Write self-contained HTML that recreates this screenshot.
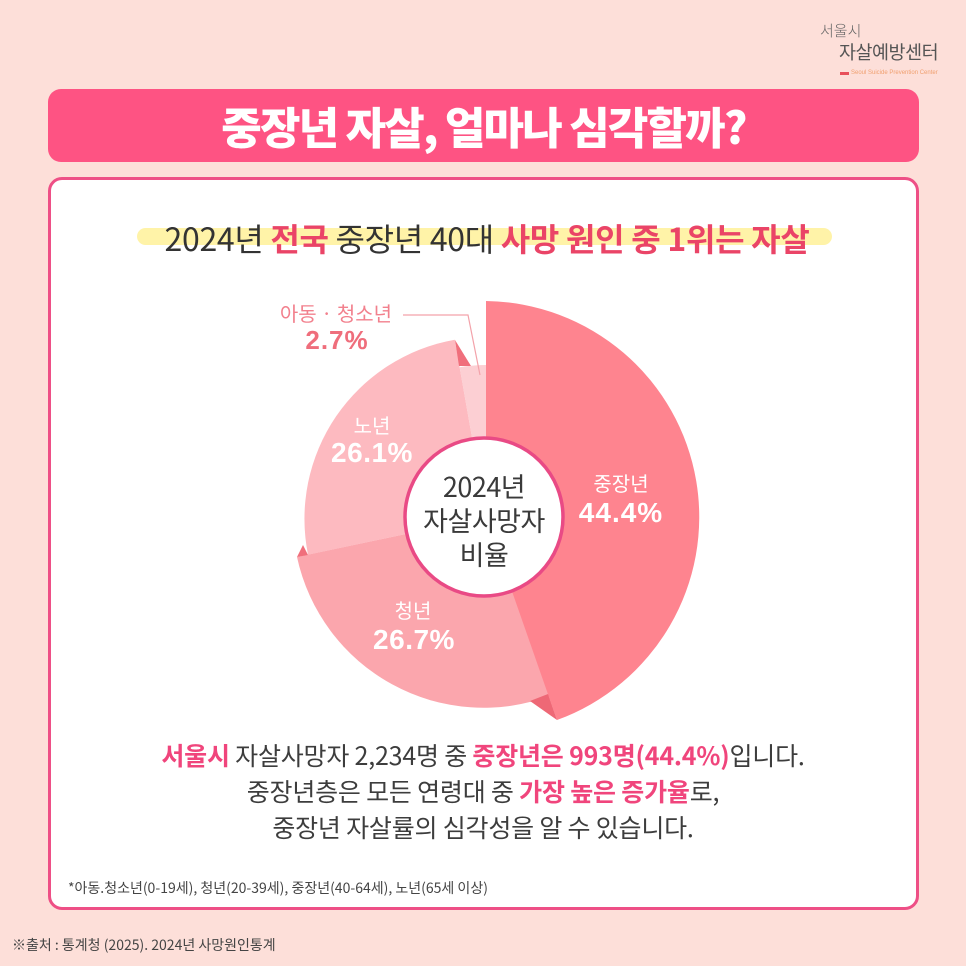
<!DOCTYPE html>
<html><head><meta charset="utf-8">
<style>
html,body{margin:0;padding:0;}
body{width:966px;height:966px;position:relative;overflow:hidden;background:#FDDFD9;font-family:"Liberation Sans","Noto Sans CJK KR",sans-serif;}
.abs{position:absolute;white-space:nowrap;}
.c{text-align:center;}
.kr{font-family:"Noto Sans CJK KR","Liberation Sans",sans-serif;}
.pink{color:#F0457C;font-weight:700;}
.red{color:#EA4467;font-weight:700;}
</style></head>
<body>
<!-- logo -->
<div class="abs kr" style="left:820px;top:22px;font-size:15px;line-height:18px;color:#666;font-weight:300;">서울시</div>
<div class="abs kr" style="left:839px;top:41px;font-size:18.5px;line-height:22px;color:#555;font-weight:400;letter-spacing:-0.5px;">자살예방센터</div>
<div class="abs" style="left:840px;top:72px;width:9px;height:3px;background:#E8505B;"></div>
<div class="abs" style="left:851px;top:69px;font-size:6px;line-height:8px;color:#F0A070;">Seoul Suicide Prevention Center</div>

<!-- title bar -->
<div class="abs" style="left:48px;top:89px;width:871px;height:73px;background:#FE5383;border-radius:13px;"></div>
<div class="abs c kr" style="left:48px;top:89px;width:871px;height:73px;line-height:72px;font-size:44px;font-weight:900;color:#fff;letter-spacing:-1.8px;">중장년 자살, 얼마나 심각할까?</div>

<!-- card -->
<div class="abs" style="left:48px;top:177px;width:865px;height:727px;background:#fff;border:3px solid #EE4F86;border-radius:14px;"></div>

<!-- subtitle -->
<div class="abs" style="left:137px;top:228px;width:695px;height:17px;background:#FFF3A8;border-radius:9px;"></div>
<div class="abs c kr" style="left:4px;top:218px;width:966px;line-height:40px;font-size:32px;color:#333;letter-spacing:-0.3px;word-spacing:0px;">2024년 <span class="red">전국</span> 중장년 40대 <span class="red">사망 원인 중 1위는 자살</span></div>

<!-- chart -->
<svg class="abs" style="left:0;top:0;" width="966" height="966" viewBox="0 0 966 966">
  <!-- 노년 -->
  <path d="M486,517 L308,554.7 A182,182 0 0 1 454.8,339.7 Z" fill="#FDBAC0"/>
  <!-- 아동 -->
  <path d="M486,517 L459.6,367.3 A152,152 0 0 1 486,365 Z" fill="#FCCFD3"/>
  <!-- 청년 -->
  <path d="M486,517 L551,695.5 A191,191 0 0 1 297,557 Z" fill="#FBA6AD"/>
  <!-- 중장년 -->
  <path d="M486,517 L486,301 A216,216 0 0 1 557,720 Z" fill="#FE848F"/>
  <!-- 3D slivers -->
  <polygon points="455,340 471,366 459,366" fill="#F06F7C"/>
  <polygon points="297,557 303,545 308,555" fill="#F06F7C"/>
  <polygon points="530,701 548,694 557,720" fill="#EE6876"/>
  <!-- leader line -->
  <polyline points="403,315 468,315 480,375" fill="none" stroke="#F3A2AA" stroke-width="1.2"/>
  <!-- center circle -->
  <circle cx="484" cy="517" r="79" fill="#fff" stroke="#E94A85" stroke-width="3.5"/>
</svg>

<!-- chart labels -->
<div class="abs c kr" style="left:236px;top:300px;width:200px;line-height:26px;font-size:20px;color:#F2808D;">아동 · 청소년</div>
<div class="abs c" style="left:237px;top:324px;width:200px;line-height:32px;font-size:26px;font-weight:700;color:#EF6E7C;letter-spacing:1px;">2.7%</div>

<div class="abs c kr" style="left:272px;top:412px;width:200px;line-height:26px;font-size:20px;color:#fff;">노년</div>
<div class="abs c" style="left:272px;top:437px;width:200px;line-height:32px;font-size:28px;font-weight:700;color:#fff;letter-spacing:0.5px;">26.1%</div>

<div class="abs c kr" style="left:521px;top:470px;width:200px;line-height:26px;font-size:20px;color:#fff;">중장년</div>
<div class="abs c" style="left:521px;top:497px;width:200px;line-height:32px;font-size:28px;font-weight:700;color:#fff;letter-spacing:1px;">44.4%</div>

<div class="abs c kr" style="left:313px;top:597px;width:200px;line-height:26px;font-size:20px;color:#fff;">청년</div>
<div class="abs c" style="left:314px;top:624px;width:200px;line-height:32px;font-size:28px;font-weight:700;color:#fff;letter-spacing:0.5px;">26.7%</div>

<div class="abs c kr" style="left:384px;top:469px;width:200px;line-height:34px;font-size:27px;color:#3a3a3a;letter-spacing:-0.5px;">2024년<br>자살사망자<br>비율</div>

<!-- body text -->
<div class="abs c kr" style="left:0;top:737px;width:966px;line-height:36px;font-size:25px;color:#3d3d3d;letter-spacing:-0.2px;"><span class="pink">서울시</span> 자살사망자 2,234명 중 <span class="pink">중장년은 993명(44.4%)</span>입니다.<br>중장년층은 모든 연령대 중 <span class="pink">가장 높은 증가율</span>로,<br>중장년 자살률의 심각성을 알 수 있습니다.</div>

<!-- footnote -->
<div class="abs kr" style="left:68px;top:879px;line-height:18px;font-size:14px;color:#444;letter-spacing:0px;">*아동.청소년(0-19세), 청년(20-39세), 중장년(40-64세), 노년(65세 이상)</div>

<!-- source -->
<div class="abs kr" style="left:12px;top:936px;line-height:18px;font-size:14px;color:#444;letter-spacing:0px;">※출처 : 통계청 (2025). 2024년 사망원인통계</div>
</body></html>
